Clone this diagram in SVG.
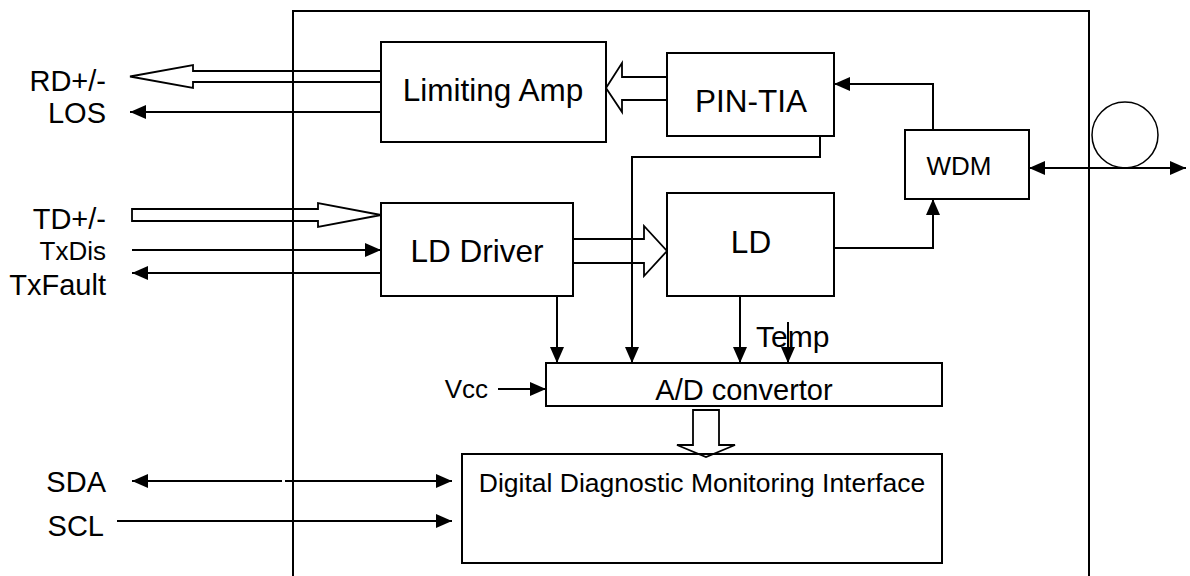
<svg xmlns="http://www.w3.org/2000/svg" width="1190" height="576" viewBox="0 0 1190 576">
<style>
.box{fill:#fff;stroke:#000;stroke-width:2}
.ln{fill:none;stroke:#000;stroke-width:2}
.hol{fill:none;stroke:#000;stroke-width:1.8;stroke-linejoin:miter}
.t{font-family:"Liberation Sans",Arial,sans-serif;fill:#000}
.big{font-size:31.5px}
.lab{font-size:29px}
</style>
<defs>
<marker id="ah" markerUnits="userSpaceOnUse" markerWidth="16" markerHeight="14" refX="16" refY="7" orient="auto">
<path d="M0,0 L16,7 L0,14 z" fill="#000"/>
</marker>
<marker id="ahs" markerUnits="userSpaceOnUse" markerWidth="16" markerHeight="14" refX="0" refY="7" orient="auto">
<path d="M16,0 L0,7 L16,14 z" fill="#000"/>
</marker>
</defs>
<rect width="1190" height="576" fill="#fff"/>
<g id="module">
<path class="ln" d="M293,580 V11 H1089 V580"/>
</g>
<g id="limiting-amp"><rect class="box" x="381" y="42" width="225" height="100"/><text class="t big" x="493" y="101" text-anchor="middle">Limiting Amp</text></g>
<g id="pin-tia"><rect class="box" x="667" y="53" width="167" height="83"/><text class="t big" x="751" y="112" text-anchor="middle">PIN-TIA</text></g>
<g id="wdm"><rect class="box" x="905" y="130" width="124" height="69"/><text class="t" font-size="26" x="959" y="175" text-anchor="middle">WDM</text></g>
<g id="ld"><rect class="box" x="667" y="193" width="167" height="103"/><text class="t big" x="751" y="253" text-anchor="middle">LD</text></g>
<g id="ld-driver"><rect class="box" x="381" y="203" width="192" height="93"/><text class="t big" x="477" y="262" text-anchor="middle">LD Driver</text></g>
<g id="ad-convertor"><rect class="box" x="546" y="363" width="396" height="43"/><text class="t" font-size="29" x="744" y="400" text-anchor="middle">A/D convertor</text></g>
<g id="ddmi"><rect class="box" x="462" y="454" width="480" height="109"/><text class="t" font-size="26.5" x="702" y="492" text-anchor="middle">Digital Diagnostic Monitoring Interface</text></g>
<g id="fiber"><circle cx="1125" cy="135" r="33" fill="none" stroke="#000" stroke-width="1.5"/></g>
<g id="labels">
<text class="t lab" x="106" y="91" text-anchor="end">RD+/-</text>
<text class="t lab" x="106" y="123" text-anchor="end">LOS</text>
<text class="t lab" x="106" y="229" text-anchor="end">TD+/-</text>
<text class="t" font-size="26" x="106" y="260" text-anchor="end">TxDis</text>
<text class="t lab" x="106" y="295" text-anchor="end">TxFault</text>
<text class="t lab" x="106" y="492" text-anchor="end">SDA</text>
<text class="t lab" x="104" y="536" text-anchor="end">SCL</text>
<text class="t" font-size="26" x="488" y="398" text-anchor="end">Vcc</text>
<text class="t" font-size="30" x="756" y="347">Temp</text>
</g>
<g id="connectors">
<polygon class="hol" points="130,76.5 193,65 193,71 381,71 381,82 193,82 193,88"/>
<polygon class="hol" points="606,88 622,63 622,77 667,77 667,100 622,100 622,112"/>
<polygon class="hol" points="132,209 318,209 318,203 381,215 318,227 318,221 132,221"/>
<polygon class="hol" points="573,239 644,239 644,226 667,251 644,276 644,263 573,263"/>
<polygon class="hol" points="693,410 719,410 719,445 735,445 706,457 677,445 693,445"/>
<path class="ln" d="M381,112 H130" marker-end="url(#ah)"/>
<path class="ln" d="M933,130 V84 H834" marker-end="url(#ah)"/>
<path class="ln" d="M834,248 H933 V199" marker-end="url(#ah)"/>
<path class="ln" stroke-width="2.5" d="M1029,168 H1186" marker-start="url(#ahs)" marker-end="url(#ah)"/>
<path class="ln" d="M820,136 V157 H632 V363" marker-end="url(#ah)"/>
<path class="ln" d="M132,250 H381" marker-end="url(#ah)"/>
<path class="ln" d="M381,273 H132" marker-end="url(#ah)"/>
<path class="ln" d="M557,296 V363" marker-end="url(#ah)"/>
<path class="ln" d="M740,296 V363" marker-end="url(#ah)"/>
<path class="ln" d="M788,322 V363" marker-end="url(#ah)"/>
<path class="ln" d="M498,389 H546" marker-end="url(#ah)"/>
<path class="ln" d="M282,481 H132" marker-end="url(#ah)"/>
<path class="ln" d="M285,481 H452" marker-end="url(#ah)"/>
<path class="ln" d="M117,521 H452" marker-end="url(#ah)"/>
</g>
</svg>
